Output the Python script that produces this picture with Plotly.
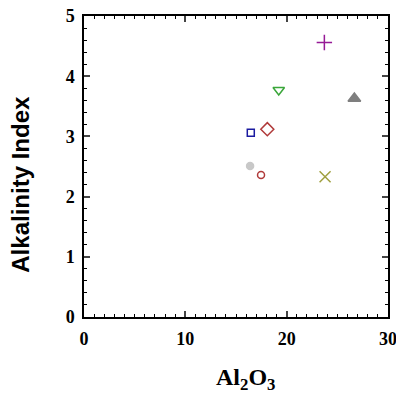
import plotly.graph_objects as go

al2o3 = [23.72, 19.22, 26.68, 16.46, 18.09, 16.39, 17.47, 23.79]
alk_index = [4.56, 3.77, 3.63, 3.06, 3.12, 2.51, 2.36, 2.33]
symbols = ["cross-thin", "triangle-down-open", "triangle-up", "square-open",
           "diamond-open", "circle", "circle-open", "x-thin"]
colors = ["#961a96", "#3aa63a", "#7f7f7f", "#1a1aa0", "#b03a3a", "#c8c8c8", "#b03a3a", "#a0a040"]
sizes = [11, 10, 11, 7, 10, 7, 7, 11]

x_ticks = [0, 10, 20, 30]
y_ticks = [0, 1, 2, 3, 4, 5]

fig = go.Figure()
for x, y, s, c, sz in zip(al2o3, alk_index, symbols, colors, sizes):
    fig.add_trace(go.Scatter(
        x=[x], y=[y], mode="markers",
        marker=dict(symbol=s, color=c, size=sz, line=dict(color=c, width=1.5)),
        showlegend=False,
    ))

tickfont = dict(family="Liberation Serif", size=18, color="black", weight="bold")
fig.update_xaxes(
    range=[0, 30], tickvals=x_ticks, ticks="inside", ticklen=6, tickwidth=1.5,
    showline=True, linecolor="black", linewidth=1.5, mirror="allticks",
    showgrid=False, zeroline=False, tickfont=tickfont, automargin=False,
    ticklabeloverflow="allow", ticklabelstandoff=5,
    minor=dict(ticks="inside", dtick=1, ticklen=3, tickcolor="black", tickwidth=1),
)
fig.update_yaxes(
    range=[0, 5], tickvals=y_ticks, ticks="inside", ticklen=6, tickwidth=1.5,
    showline=True, linecolor="black", linewidth=1.5, mirror="allticks",
    showgrid=False, zeroline=False, tickfont=tickfont, automargin=False,
    ticklabeloverflow="allow", ticklabelstandoff=4,
    minor=dict(ticks="inside", dtick=0.2, ticklen=3, tickcolor="black", tickwidth=1),
)
fig.add_annotation(
    text="<b>Al<sub>2</sub>O<sub>3</sub></b>", xref="paper", yref="paper",
    x=0.53, y=-0.206, showarrow=False, xanchor="center", yanchor="middle",
    font=dict(family="Liberation Serif", size=24, color="black"),
)
fig.add_annotation(
    text="<b>Alkalinity Index</b>", xref="paper", yref="paper",
    x=-0.21, y=0.44, showarrow=False, xanchor="center", yanchor="middle",
    textangle=-90, font=dict(family="Liberation Sans", size=24, color="black"),
)
fig.update_layout(
    width=396, height=394,
    margin=dict(l=84, r=8, t=16, b=77),
    plot_bgcolor="white", paper_bgcolor="white",
)
fig.write_html("out.html")
